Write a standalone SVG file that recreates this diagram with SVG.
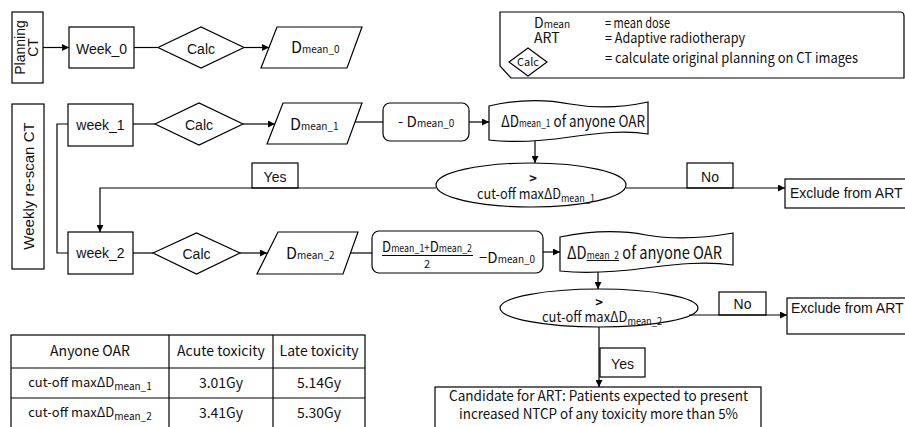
<svg xmlns="http://www.w3.org/2000/svg" width="905" height="427" viewBox="0 0 905 427">
<defs>
<marker id="arr" viewBox="0 0 10 10" refX="10" refY="5" markerWidth="7" markerHeight="7" markerUnits="userSpaceOnUse" orient="auto">
<path d="M0,0 L10,5 L0,10 Z" fill="#000"/>
</marker>
<style>
.s{fill:#fff;stroke:#000;stroke-width:1.2}
.ln{fill:none;stroke:#000;stroke-width:1.2}
.a{font-family:"Liberation Sans",Arial,sans-serif;font-size:14px;fill:#111}
.y{font-family:"Noto Sans CJK SC","Noto Sans",sans-serif;fill:#111}
.c{text-anchor:middle}
.sub{font-size:10px}
</style>
</defs>
<rect width="905" height="427" fill="#fff"/>

<g id="planning-ct">
<rect class="s" x="12" y="12" width="31" height="71"/>
<text class="a c" transform="translate(25,47.5) rotate(-90)">Planning</text>
<text class="a c" transform="translate(38,47.5) rotate(-90)">CT</text>
</g>
<g id="weekly-rescan">
<rect class="s" x="12" y="104" width="32" height="165"/>
<text class="a c" transform="translate(34,186) rotate(-90)" style="font-size:15px">Weekly re-scan CT</text>
</g>

<g id="legend">
<path class="s" d="M500,12 H900 Q904,12 904,16 V78 H511 L500,66 Z"/>
<text class="y" x="534" y="28" font-size="14">D<tspan class="sub">mean</tspan></text>
<text class="y" x="605" y="28" font-size="14" textLength="65" lengthAdjust="spacingAndGlyphs">= mean dose</text>
<text class="y" x="534" y="43" font-size="14">ART</text>
<text class="y" x="605" y="43" font-size="14" textLength="140" lengthAdjust="spacingAndGlyphs">= Adaptive radiotherapy</text>
<polygon class="s" points="509,62 528,48 547,62 528,76"/>
<text class="y c" x="528" y="66" font-size="11">Calc</text>
<text class="y" x="605" y="63" font-size="14" textLength="253" lengthAdjust="spacingAndGlyphs">= calculate original planning on CT images</text>
</g>

<g id="week0">
<rect class="s" x="69" y="27" width="65" height="41"/>
<text class="a c" x="101.5" y="54">Week_0</text>
</g>
<g id="calc0">
<polygon class="s" points="158,47.5 201,27 244,47.5 201,68"/>
<text class="a c" x="201" y="54">Calc</text>
</g>
<g id="dmean0">
<polygon class="s" points="277,27 362,27 347,68 261,68"/>
<text class="y" x="291" y="53" font-size="16">D<tspan class="sub">mean_0</tspan></text>
</g>

<g id="week1">
<rect class="s" x="68" y="104" width="65" height="42"/>
<text class="a c" x="100.5" y="130">week_1</text>
</g>
<g id="calc1">
<polygon class="s" points="155,124 199,103 243,124 199,145"/>
<text class="a c" x="199" y="130">Calc</text>
</g>
<g id="dmean1">
<polygon class="s" points="283,103 362,103 347,144 267,144"/>
<text class="y" x="290" y="130" font-size="16">D<tspan class="sub">mean_1</tspan></text>
</g>
<g id="minus-d0">
<rect class="s" x="383" y="103" width="86" height="38" rx="7"/>
<text class="y" x="398" y="127" font-size="15">- D<tspan class="sub">mean_0</tspan></text>
</g>
<g id="delta1">
<path class="s" d="M489,106 C515,100 545,99 570,104 C598,109 625,107 648,102 V134 C625,130 600,133 570,137 C543,141 515,143 489,140 Z"/>
<text class="y" x="501" y="127" font-size="16" textLength="144" lengthAdjust="spacingAndGlyphs">ΔD<tspan class="sub">mean_1</tspan> of anyone OAR</text>
</g>
<g id="cutoff1">
<ellipse class="s" cx="531" cy="185" rx="95" ry="22"/>
<text class="y c" x="533" y="183" font-size="13" font-weight="bold">&gt;</text>
<text class="y" x="477" y="199" font-size="14" textLength="118" lengthAdjust="spacingAndGlyphs">cut-off maxΔD<tspan class="sub" dy="3">mean_1</tspan></text>
</g>
<g id="no1">
<rect class="s" x="687" y="163" width="46" height="25"/>
<text class="a c" x="710" y="182">No</text>
</g>
<g id="exclude1">
<rect class="s" x="785" y="179" width="125" height="29"/>
<text class="a" x="790" y="198">Exclude from ART</text>
</g>
<g id="yes1">
<rect class="s" x="252" y="163" width="46" height="25"/>
<text class="a c" x="275" y="182">Yes</text>
</g>

<g id="week2">
<rect class="s" x="68" y="232" width="65" height="42"/>
<text class="a c" x="100.5" y="258">week_2</text>
</g>
<g id="calc2">
<polygon class="s" points="153,253 196.5,233 240,253 196.5,274"/>
<text class="a c" x="196.5" y="259">Calc</text>
</g>
<g id="dmean2">
<polygon class="s" points="278,232 358,232 343,274 257,274"/>
<text class="y" x="286" y="259" font-size="16">D<tspan class="sub">mean_2</tspan></text>
</g>
<g id="avg-minus-d0">
<rect class="s" x="372" y="231" width="171" height="42" rx="7"/>
<text class="y" x="382" y="252" font-size="15" textLength="90" lengthAdjust="spacingAndGlyphs">D<tspan class="sub">mean_1</tspan><tspan font-size="11">+</tspan>D<tspan class="sub">mean_2</tspan></text>
<line class="ln" x1="382" y1="255.5" x2="473" y2="255.5"/>
<text class="y c" x="427" y="268" font-size="11">2</text>
<text class="y" x="479" y="263" font-size="15">−D<tspan class="sub">mean_0</tspan></text>
</g>
<g id="delta2">
<path class="s" d="M560,237 C590,231 620,230 646,235 C675,240 705,238 733,233 V265 C705,261 678,264 646,268 C615,272 588,274 560,271 Z"/>
<text class="y" x="567" y="259" font-size="17" textLength="155" lengthAdjust="spacingAndGlyphs">ΔD<tspan class="sub" text-decoration="underline">mean_2</tspan> of anyone OAR</text>
</g>
<g id="cutoff2">
<ellipse class="s" cx="599" cy="308" rx="99" ry="19"/>
<text class="y c" x="599" y="307" font-size="13" font-weight="bold">&gt;</text>
<text class="y" x="542" y="322" font-size="14" textLength="120" lengthAdjust="spacingAndGlyphs">cut-off maxΔD<tspan class="sub" dy="3">mean_2</tspan></text>
</g>
<g id="no2">
<rect class="s" x="719" y="292" width="47" height="23"/>
<text class="a c" x="742.5" y="309">No</text>
</g>
<g id="exclude2">
<rect class="s" x="787" y="298" width="123" height="36"/>
<text class="a" x="791" y="313">Exclude from ART</text>
</g>
<g id="yes2">
<rect class="s" x="600" y="348" width="45" height="29"/>
<text class="a c" x="622.5" y="369">Yes</text>
</g>
<g id="candidate">
<rect class="s" x="435" y="387" width="326" height="50"/>
<text class="y" x="449" y="401" font-size="14" textLength="299" lengthAdjust="spacingAndGlyphs">Candidate for ART: Patients expected to present</text>
<text class="y" x="459" y="419" font-size="14" textLength="279" lengthAdjust="spacingAndGlyphs">increased NTCP of any toxicity more than 5%</text>
</g>

<g id="table">
<rect class="s" x="11" y="335" width="354" height="100"/>
<line class="ln" x1="11" y1="368" x2="365" y2="368"/>
<line class="ln" x1="11" y1="398" x2="365" y2="398"/>
<line class="ln" x1="169" y1="335" x2="169" y2="435"/>
<line class="ln" x1="273" y1="335" x2="273" y2="435"/>
<text class="y c" x="90" y="356" font-size="14">Anyone OAR</text>
<text class="y c" x="221" y="356" font-size="14">Acute toxicity</text>
<text class="y c" x="319" y="356" font-size="14">Late toxicity</text>
<text class="y c" x="90" y="387" font-size="13">cut-off maxΔD<tspan class="sub" dy="3">mean_1</tspan></text>
<text class="y c" x="221" y="388" font-size="14">3.01Gy</text>
<text class="y c" x="319" y="388" font-size="14">5.14Gy</text>
<text class="y c" x="90" y="417" font-size="13">cut-off maxΔD<tspan class="sub" dy="3">mean_2</tspan></text>
<text class="y c" x="221" y="418" font-size="14">3.41Gy</text>
<text class="y c" x="319" y="418" font-size="14">5.30Gy</text>
</g>

<g id="connectors">
<line class="ln" x1="43" y1="47.5" x2="69" y2="47.5" marker-end="url(#arr)"/>
<line class="ln" x1="134" y1="47.5" x2="158" y2="47.5"/>
<line class="ln" x1="244" y1="47.5" x2="269" y2="47.5" marker-end="url(#arr)"/>
<path class="ln" d="M68,124 H57 V253 H68"/>
<line class="ln" x1="133" y1="124" x2="155" y2="124"/>
<line class="ln" x1="243" y1="124" x2="275" y2="124" marker-end="url(#arr)"/>
<line class="ln" x1="355" y1="122" x2="383" y2="122"/>
<line class="ln" x1="469" y1="122" x2="489" y2="122" marker-end="url(#arr)"/>
<line class="ln" x1="535" y1="141" x2="535" y2="163" marker-end="url(#arr)"/>
<line class="ln" x1="626" y1="188" x2="785" y2="188" marker-end="url(#arr)"/>
<path class="ln" d="M436,188 H100 V232" marker-end="url(#arr)"/>
<line class="ln" x1="133" y1="253" x2="153" y2="253"/>
<line class="ln" x1="240" y1="253" x2="267" y2="253" marker-end="url(#arr)"/>
<line class="ln" x1="350" y1="253" x2="372" y2="253"/>
<line class="ln" x1="543" y1="252" x2="560" y2="252" marker-end="url(#arr)"/>
<line class="ln" x1="598" y1="272" x2="598" y2="289" marker-end="url(#arr)"/>
<line class="ln" x1="689" y1="315" x2="787" y2="315" marker-end="url(#arr)"/>
<line class="ln" x1="599" y1="327" x2="599" y2="387" marker-end="url(#arr)"/>
</g>
</svg>
